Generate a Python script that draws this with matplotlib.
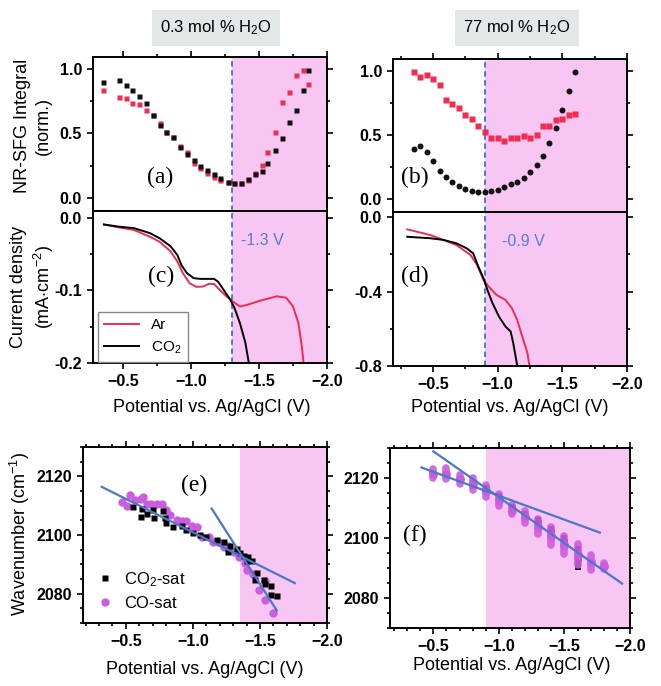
import matplotlib
matplotlib.use("Agg")
import matplotlib.pyplot as plt
from matplotlib.ticker import MultipleLocator

plt.rcParams['font.family'] = 'Liberation Sans'
plt.rcParams['mathtext.fontset'] = 'custom'
plt.rcParams['mathtext.rm'] = 'Liberation Sans'
plt.rcParams['mathtext.it'] = 'Liberation Sans:italic'

# (a) NR-SFG integral, 0.3 mol % H2O
a_v = [-0.35, -0.47, -0.52, -0.57, -0.62, -0.67, -0.72, -0.77, -0.82, -0.87,
       -0.92, -0.97, -1.02, -1.07, -1.12, -1.17, -1.21, -1.27, -1.32, -1.37,
       -1.42, -1.47, -1.52, -1.56, -1.62, -1.67, -1.72, -1.77, -1.82, -1.86]
a_co2 = [0.90, 0.915, 0.876, 0.835, 0.785, 0.734, 0.638, 0.566, 0.512, 0.47,
         0.398, 0.341, 0.295, 0.25, 0.217, 0.186, 0.153, 0.126, 0.119, 0.119,
         0.147, 0.186, 0.209, 0.274, 0.372, 0.463, 0.591, 0.682, 0.837, 0.992]
a_ar = [0.837, 0.78, 0.77, 0.734, 0.726, 0.677, 0.643, 0.579, 0.514, 0.47,
        0.405, 0.357, 0.274, 0.23, 0.196, 0.165, 0.14, 0.126, 0.119, 0.119,
        0.14, 0.196, 0.256, 0.354, 0.514, 0.739, 0.817, 0.951, 0.992, 0.884]

# (b) NR-SFG integral, 77 mol % H2O
b_v = [-0.35, -0.40, -0.45, -0.50, -0.55, -0.60, -0.65, -0.70, -0.75, -0.80,
       -0.85, -0.90, -0.95, -1.00, -1.05, -1.10, -1.15, -1.20, -1.25, -1.30,
       -1.35, -1.40, -1.45, -1.50, -1.55, -1.60]
b_ar = [0.99, 0.953, 0.969, 0.935, 0.884, 0.773, 0.742, 0.711, 0.657, 0.626,
        0.571, 0.519, 0.475, 0.475, 0.45, 0.475, 0.475, 0.488, 0.475, 0.50,
        0.566, 0.566, 0.618, 0.626, 0.651, 0.659]
b_co2 = [0.393, 0.411, 0.367, 0.295, 0.22, 0.173, 0.134, 0.106, 0.078, 0.065,
         0.057, 0.054, 0.062, 0.075, 0.095, 0.116, 0.134, 0.168, 0.209, 0.269,
         0.339, 0.436, 0.556, 0.69, 0.845, 0.99]

# (c) current density, 0.3 mol %
c_ar_v = [-0.36, -0.47, -0.58, -0.70, -0.77, -0.85, -0.90, -0.94, -0.99, -1.04,
          -1.09, -1.13, -1.17, -1.20, -1.26, -1.32, -1.36, -1.41, -1.51, -1.63,
          -1.70, -1.75, -1.79, -1.815, -1.83]
c_ar_j = [-0.009, -0.013, -0.0165, -0.026, -0.033, -0.046, -0.060, -0.076, -0.090, -0.095,
          -0.0945, -0.091, -0.091, -0.097, -0.108, -0.117, -0.122, -0.120, -0.114, -0.108,
          -0.110, -0.122, -0.145, -0.177, -0.205]
c_co2_v = [-0.36, -0.47, -0.58, -0.70, -0.77, -0.85, -0.90, -0.93, -0.97, -1.02,
           -1.07, -1.17, -1.20, -1.24, -1.29, -1.32, -1.36, -1.40, -1.43]
c_co2_j = [-0.009, -0.012, -0.014, -0.021, -0.028, -0.039, -0.051, -0.065, -0.076, -0.083,
           -0.084, -0.084, -0.088, -0.099, -0.113, -0.124, -0.145, -0.172, -0.205]

# (d) current density, 77 mol %
d_co2_v = [-0.30, -0.48, -0.58, -0.68, -0.76, -0.81, -0.85, -0.89, -0.92, -0.96,
           -1.01, -1.06, -1.10, -1.12, -1.15, -1.155]
d_co2_j = [-0.106, -0.114, -0.123, -0.141, -0.168, -0.195, -0.266, -0.329, -0.391, -0.463,
           -0.535, -0.588, -0.615, -0.677, -0.794, -0.82]
d_ar_v = [-0.30, -0.48, -0.58, -0.68, -0.79, -0.84, -0.89, -0.93, -0.99, -1.06,
          -1.11, -1.15, -1.19, -1.23, -1.25]
d_ar_j = [-0.066, -0.097, -0.123, -0.150, -0.204, -0.257, -0.338, -0.374, -0.418, -0.445,
          -0.490, -0.552, -0.642, -0.731, -0.82]

# (e) wavenumber, 0.3 mol %
e_co2_v = [-0.55, -0.61, -0.62, -0.66, -0.70, -0.71, -0.78, -0.79, -0.80, -0.85,
           -0.92, -0.95, -1.00, -1.05, -1.10, -1.18, -1.23, -1.28, -1.26, -1.33,
           -1.35, -1.38, -1.41, -1.40, -1.44, -1.48, -1.46, -1.53, -1.54, -1.58,
           -1.58, -1.63]
e_co2 = [2109.4, 2106.2, 2108.8, 2107.1, 2108.5, 2105.7, 2108.2, 2105.7, 2104.0, 2102.8,
         2103.0, 2101.7, 2100.6, 2100.0, 2099.2, 2098.3, 2097.7, 2096.3, 2094.3, 2095.2,
         2093.8, 2093.0, 2092.6, 2091.0, 2091.0, 2087.2, 2084.7, 2084.7, 2083.3, 2082.5,
         2079.7, 2079.1]
e_co_v = [-0.47, -0.51, -0.53, -0.57, -0.61, -0.63, -0.66, -0.69, -0.73, -0.77,
          -0.80, -0.83, -0.88, -0.92, -0.95, -0.99, -1.03, -1.07, -1.12, -1.15,
          -1.19, -1.23, -1.26, -1.31, -1.34, -1.39, -1.40, -1.45, -1.49, -1.54,
          -1.54, -1.60]
e_co = [2111.3, 2109.8, 2113.6, 2111.9, 2112.4, 2113.0, 2110.7, 2110.5, 2110.7, 2110.5,
        2108.5, 2106.8, 2105.1, 2104.8, 2104.8, 2103.0, 2102.6, 2099.4, 2099.4, 2097.7,
        2097.7, 2096.0, 2096.3, 2094.3, 2092.4, 2090.4, 2088.1, 2086.8, 2081.4, 2084.2,
        2078.0, 2073.5]
e_fit1_v = [-0.32, -1.76]
e_fit1 = [2116.4, 2083.6]
e_fit2_v = [-1.14, -1.625]
e_fit2 = [2109.0, 2074.3]

# (f) wavenumber, 77 mol %
f_co_v = [-0.5, -0.6, -0.7, -0.8, -0.9, -1.0, -1.1, -1.2, -1.3, -1.4, -1.5, -1.6, -1.7, -1.8]
f_co = [2121.5, 2121.4, 2119.6, 2118.0, 2115.7, 2112.8, 2109.5, 2107.1, 2103.7, 2100.7,
        2097.6, 2094.5, 2091.9, 2090.8]
f_co_err = [1.5, 1.8, 1.5, 2.0, 2.0, 2.0, 1.5, 2.0, 2.5, 3.0, 3.0, 3.5, 2.5, 1.0]
f_co2_v = [-0.5, -0.6, -0.7, -0.8, -0.9, -1.0, -1.1, -1.2, -1.3, -1.4, -1.5, -1.6]
f_co2 = [2121.5, 2121.4, 2119.6, 2118.0, 2116.3, 2113.5, 2110.0, 2107.5, 2105.0, 2102.0,
         2099.0, 2093.5]
f_co2_err = [1.0, 1.0, 1.0, 1.5, 1.5, 1.5, 1.5, 1.5, 2.0, 2.0, 2.0, 4.0]
f_fit1_v = [-0.41, -1.77]
f_fit1 = [2123.5, 2101.8]
f_fit2_v = [-0.50, -1.94]
f_fit2 = [2128.9, 2084.8]

RED = '#f02c50'
PINK = '#f8c6f3'
DASH = '#3f6ed8'
FIT = '#4a78c8'
MAG = '#cc5ce0'

W, H = 661, 686
fig = plt.figure(figsize=(W / 100, H / 100), dpi=100)


def rect(x0, y0, x1, y1):
    return [x0 / W, 1 - y1 / H, (x1 - x0) / W, (y1 - y0) / H]


def style(ax, xmin, ymaj, ymin, top=True, bottom=True, labels=True):
    ax.xaxis.set_major_locator(MultipleLocator(0.5))
    ax.xaxis.set_minor_locator(MultipleLocator(xmin))
    ax.yaxis.set_major_locator(MultipleLocator(ymaj))
    ax.yaxis.set_minor_locator(MultipleLocator(ymin))
    ax.tick_params(which='both', direction='out', top=top, bottom=bottom, right=True,
                   width=1.2, labelsize=11.5, labelbottom=labels)
    ax.tick_params(which='major', length=4.5)
    ax.tick_params(which='minor', length=2.5)
    for lab in ax.get_xticklabels() + ax.get_yticklabels():
        lab.set_fontweight('bold')
    for s in ax.spines.values():
        s.set_linewidth(1.4)


serif = dict(family='Liberation Serif', fontsize=17)

# ---- (a)
ax = fig.add_axes(rect(93, 57, 327, 211))
ax.axvspan(-1.3, -2.1, color=PINK, lw=0, zorder=0)
ax.axvline(-1.3, color=DASH, ls=(0, (3, 2)), lw=1.3)
ax.plot(a_v, a_ar, 's', color=RED, ms=3.6, mec='none')
ax.plot(a_v, a_co2, 's', color='#111111', ms=3.6, mec='none')
ax.set_xlim(-0.28, -2.0)
ax.set_ylim(-0.1, 1.09)
ax.set_yticks([0.0, 0.5, 1.0])
style(ax, 0.25, 0.5, 0.25, bottom=False, labels=False)
ax.text(-0.77, 0.16, '(a)', ha='center', va='center', **serif)

# ---- (c)
ax = fig.add_axes(rect(93, 211, 327, 363))
ax.axvspan(-1.3, -2.1, color=PINK, lw=0, zorder=0)
ax.axvline(-1.3, color=DASH, ls=(0, (3, 2)), lw=1.3)
ax.plot(c_ar_v, c_ar_j, color=RED, lw=1.4, label='Ar')
ax.plot(c_co2_v, c_co2_j, color='black', lw=1.4, label='CO$_2$')
ax.set_xlim(-0.28, -2.0)
ax.set_ylim(-0.2, 0.0096)
style(ax, 0.25, 0.1, 0.05, top=False)
ax.yaxis.set_major_formatter(matplotlib.ticker.FormatStrFormatter('%.1f'))
ax.text(-1.37, -0.031, '-1.3 V', color='#5b7ad8', fontsize=11.5, va='center')
ax.text(-0.78, -0.080, '(c)', ha='center', va='center', **serif)
leg = ax.legend(loc='lower left', bbox_to_anchor=(0.02, 0.005), fontsize=11,
                fancybox=False, edgecolor='#888888', handlelength=2.3,
                borderaxespad=0, framealpha=1)
leg.get_frame().set_linewidth(1.0)

# ---- (b)
ax = fig.add_axes(rect(393, 59, 627, 212))
ax.axvspan(-0.9, -2.1, color=PINK, lw=0, zorder=0)
ax.axvline(-0.9, color=DASH, ls=(0, (3, 2)), lw=1.3)
ax.plot(b_v, b_ar, 's', color=RED, ms=3.8, mec='none')
ax.plot(b_v, b_co2, 'o', color='#111111', ms=4.3, mec='none')
ax.set_xlim(-0.19, -2.0)
ax.set_ylim(-0.1, 1.09)
ax.set_yticks([0.0, 0.5, 1.0])
style(ax, 0.25, 0.5, 0.25, bottom=False, labels=False)
ax.text(-0.36, 0.17, '(b)', ha='center', va='center', **serif)

# ---- (d)
ax = fig.add_axes(rect(393, 212, 627, 366))
ax.axvspan(-0.9, -2.1, color=PINK, lw=0, zorder=0)
ax.axvline(-0.9, color=DASH, ls=(0, (3, 2)), lw=1.3)
ax.plot(d_ar_v, d_ar_j, color=RED, lw=1.4)
ax.plot(d_co2_v, d_co2_j, color='black', lw=1.4)
ax.set_xlim(-0.19, -2.0)
ax.set_ylim(-0.8, 0.027)
style(ax, 0.25, 0.4, 0.2, top=False)
ax.yaxis.set_major_formatter(matplotlib.ticker.FormatStrFormatter('%.1f'))
ax.text(-1.03, -0.13, '-0.9 V', color='#5b7ad8', fontsize=11.5, va='center')
ax.text(-0.36, -0.32, '(d)', ha='center', va='center', **serif)

# ---- (e)
ax = fig.add_axes(rect(83, 447, 327, 623))
ax.axvspan(-1.35, -2.1, color=PINK, lw=0, zorder=0)
ax.plot(e_co_v, e_co, 'o', color=MAG, ms=6, mec='none', label='CO-sat', zorder=2)
ax.plot(e_co2_v, e_co2, 's', color='black', ms=5, mec='none', label='CO$_2$-sat', zorder=3)
ax.plot(e_fit1_v, e_fit1, color=FIT, lw=1.6, zorder=4)
ax.plot(e_fit2_v, e_fit2, color=FIT, lw=1.6, zorder=4)
ax.set_xlim(-0.18, -2.0)
ax.set_ylim(2070, 2130)
style(ax, 0.1, 20, 5)
ax.text(-1.01, 2117, '(e)', ha='center', va='center', **serif)
h, l = ax.get_legend_handles_labels()
ax.legend([h[1], h[0]], [l[1], l[0]], loc='lower left', bbox_to_anchor=(0.03, 0.03),
          frameon=False, fontsize=12, handlelength=1.0, handletextpad=0.6,
          labelspacing=0.45, borderaxespad=0)

# ---- (f)
ax = fig.add_axes(rect(390, 448, 630, 628))
ax.axvspan(-0.9, -2.1, color=PINK, lw=0, zorder=0)
eb = ax.errorbar(f_co2_v, f_co2, yerr=f_co2_err, fmt='s', color='black', ms=4.5,
                 mec='none', elinewidth=4, capsize=0, zorder=2)
eb[2][0].set_capstyle('butt')
eb = ax.errorbar(f_co_v, f_co, yerr=f_co_err, fmt='o', color=MAG, ms=6.5,
                 mec='none', elinewidth=5.5, capsize=0, zorder=3, alpha=0.9)
eb[2][0].set_capstyle('round')
ax.plot(f_fit1_v, f_fit1, color=FIT, lw=1.6, zorder=4)
ax.plot(f_fit2_v, f_fit2, color=FIT, lw=1.6, zorder=4)
ax.set_xlim(-0.17, -2.0)
ax.set_ylim(2070, 2130)
style(ax, 0.1, 20, 5)
ax.text(-0.36, 2101, '(f)', ha='center', va='center', **serif)

# headers and shared labels
box = dict(boxstyle='square,pad=0.5', fc='#e4e7e7', ec='none')
fig.text(216 / W, 1 - 28 / H, '0.3 mol % H$_2$O', ha='center', va='center', fontsize=12, bbox=box)
fig.text(517 / W, 1 - 28 / H, '77 mol % H$_2$O', ha='center', va='center', fontsize=12, bbox=box)

fig.text(33 / W, 1 - 126 / H, 'NR-SFG Integral\n(norm.)', rotation=90, ha='center',
         va='center', fontsize=13, linespacing=1.25)
fig.text(33 / W, 1 - 287 / H, 'Current density\n(mA$\\cdot$cm$^{-2}$)', rotation=90,
         ha='center', va='center', fontsize=13, linespacing=1.25)
fig.text(20 / W, 1 - 534 / H, 'Wavenumber (cm$^{-1}$)', rotation=90, ha='center',
         va='center', fontsize=13)
for x, y in [(212, 408), (510, 408), (205, 670), (512, 666)]:
    fig.text(x / W, 1 - y / H, 'Potential vs. Ag/AgCl (V)', ha='center', va='center', fontsize=13)

fig.savefig('out.png', dpi=100)
